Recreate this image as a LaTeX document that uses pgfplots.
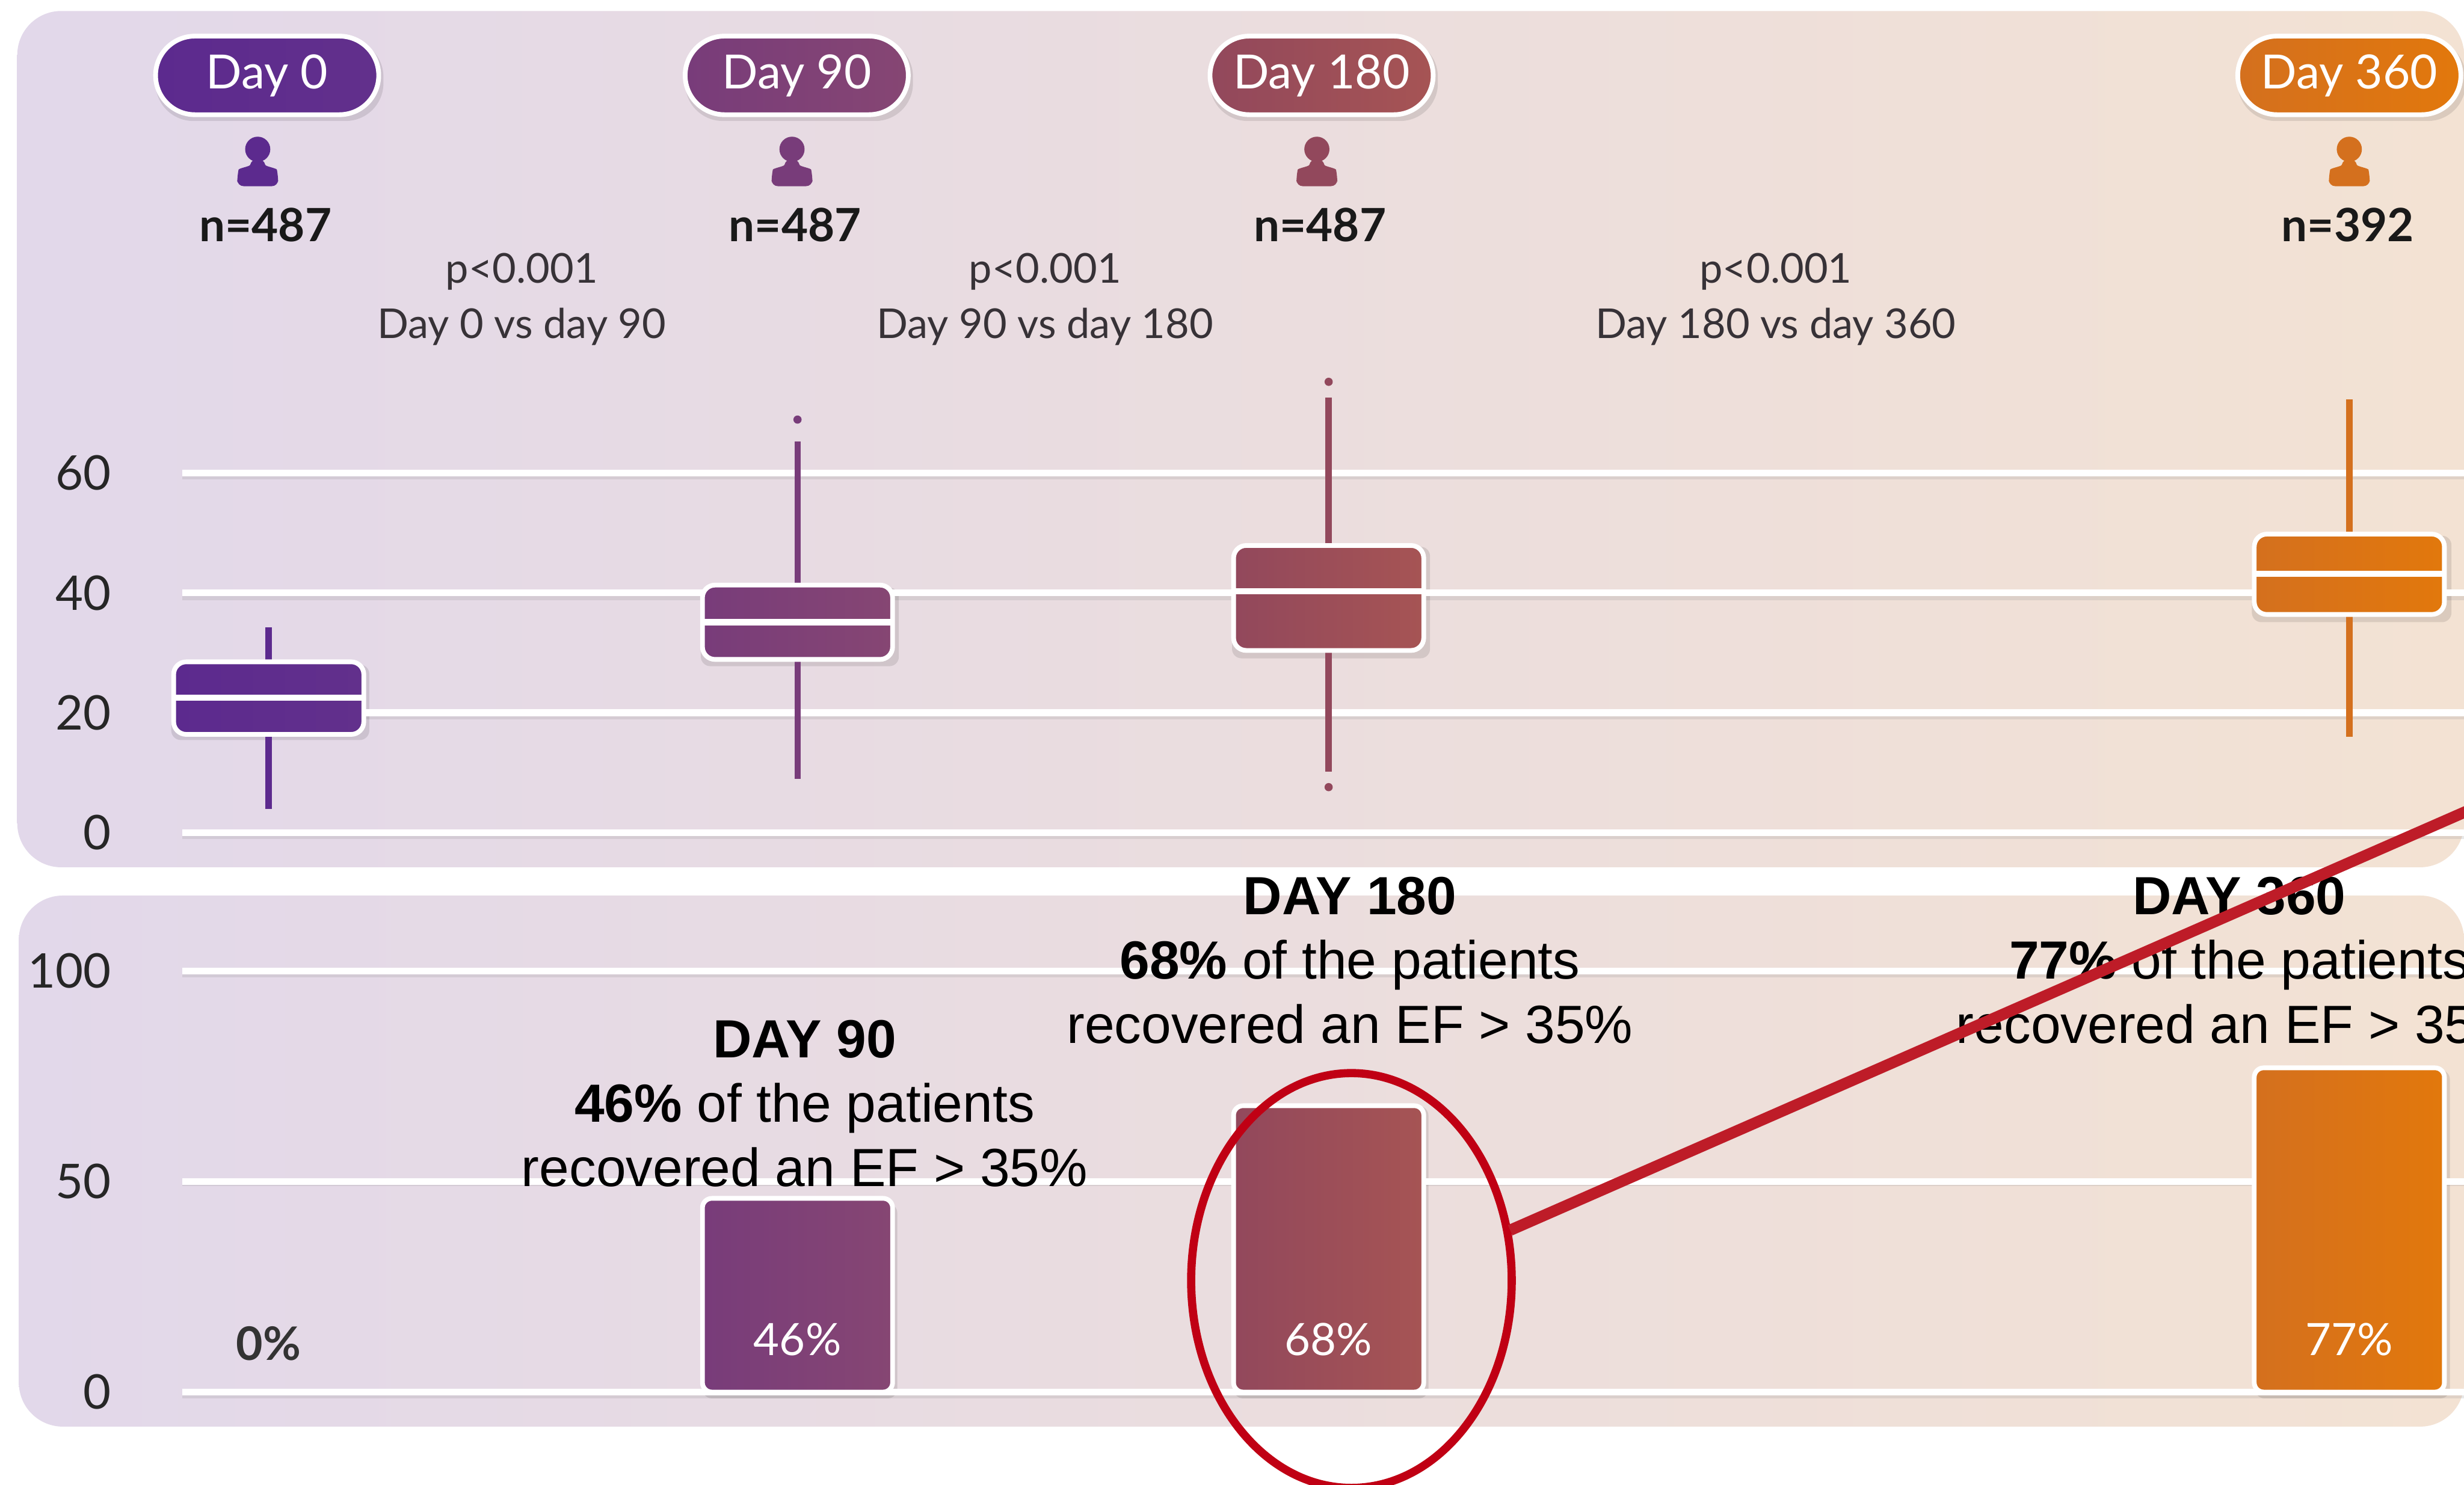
\documentclass[border=0pt]{standalone}
\usepackage{fontspec}
\setmainfont{Lato}
\newfontfamily\arial{Liberation Sans}
\usepackage{pgfplots}
\pgfplotsset{compat=1.18}
\definecolor{dA}{RGB}{92,42,142}
\definecolor{dAr}{RGB}{98,48,140}
\definecolor{dB}{RGB}{120,60,122}
\definecolor{dBr}{RGB}{134,70,115}
\definecolor{dC}{RGB}{146,72,92}
\definecolor{dCr}{RGB}{166,84,84}
\definecolor{dD}{RGB}{212,112,30}
\definecolor{dDr}{RGB}{226,120,12}
\definecolor{bgL}{RGB}{226,216,234}
\definecolor{bgM}{RGB}{238,223,224}
\definecolor{bgR}{RGB}{243,226,211}
\definecolor{redline}{RGB}{190,28,40}
\definecolor{redell}{RGB}{192,0,20}
\definecolor{ptext}{RGB}{55,50,55}
\pgfplotsset{
  panel/.style={
    scale only axis, width=726pt, xmin=116, xmax=1568, clip=false,
    axis line style={draw=none}, major tick length=0pt, xtick=\empty,
    ymajorgrids, grid style={white, line width=2.2pt},
    /pgf/number format/assume math mode=true,
    yticklabel style={font=\fontsize{15.2}{18}\selectfont\color{black!85}, inner sep=0pt, xshift=-22.5pt},
  },
  wh/.style={draw=#1, line width=2pt},
  bx/.style n args={2}{draw=white, line width=1.5pt, left color=#1, right color=#2, rounded corners=4pt},
  md/.style={draw=white, line width=2pt},
  ol/.style={only marks, mark=*, mark size=1.1pt, color=#1},
  br/.style n args={2}{
    ybar, bar shift=0pt, bar width=60.5pt, draw=white, line width=1.5pt,
    left color=#1, right color=#2, rounded corners=3pt,
  },
}
\begin{document}
\begin{tikzpicture}
\useasboundingbox (0,0) rectangle (784pt,-472.5pt);
\clip (0,0) rectangle (784pt,-472.5pt);
\fill[white] (0,0) rectangle (784pt,-472.5pt);
\begin{scope}[x=0.5pt,y=-0.5pt]
  \shade[left color=bgL, middle color=bgM, right color=bgR, rounded corners=14pt] (11,7) rectangle (1568,552);
  \shade[left color=bgL, middle color=bgM, right color=bgR, rounded corners=14pt] (12,570) rectangle (1568,908);
  % grid shadows
  \foreach \y in {303.5,380.5,456.5,532.5,620.5,753.5,888.5}
    \draw[black!40, opacity=.22, line width=1.5pt] (116,\y) -- (1568,\y);
  % element shadows
  \foreach \a/\b/\c/\d in {109/423/235/471, 446/374/572/424, 784/348/910/419, 1433/341/1560/396,
                           447/766/571/890, 785/704/909/890, 1435/681/1559/890}
    \fill[black, opacity=.10, rounded corners=3pt] (\a,\b) rectangle (\c,\d);
\end{scope}

\begin{axis}[panel, at={(58pt,-265pt)}, anchor=south west, height=152.65pt, ymin=0, ymax=80, ytick={0,20,40,60}]
  % Day 0
  \addplot[wh=dA] coordinates {(171,4) (171,16.4)};
  \addplot[wh=dA] coordinates {(171,28.5) (171,34.3)};
  \addplot[bx={dA}{dAr}] coordinates {(171,16.4) (231.5,16.4) (231.5,28.5) (110.5,28.5) (110.5,16.4)} -- cycle;
  \addplot[md] coordinates {(111.5,22.5) (230.5,22.5)};
  % Day 90
  \addplot[wh=dB] coordinates {(507.5,9) (507.5,28.9)};
  \addplot[wh=dB] coordinates {(507.5,41.3) (507.5,65.3)};
  \addplot[bx={dB}{dBr}] coordinates {(507.5,28.9) (568,28.9) (568,41.3) (447,41.3) (447,28.9)} -- cycle;
  \addplot[md] coordinates {(448,35.1) (567,35.1)};
  \addplot[ol=dB] coordinates {(507.5,68.9)};
  % Day 180
  \addplot[wh=dC] coordinates {(845.5,10.2) (845.5,30.4)};
  \addplot[wh=dC] coordinates {(845.5,47.9) (845.5,72.6)};
  \addplot[bx={dC}{dCr}] coordinates {(845.5,30.4) (906,30.4) (906,47.9) (785,47.9) (785,30.4)} -- cycle;
  \addplot[md] coordinates {(786,40.3) (905,40.3)};
  \addplot[ol=dC] coordinates {(845.5,75.2) (845.5,7.6)};
  % Day 360
  \addplot[wh=dD] coordinates {(1495,16) (1495,36.4)};
  \addplot[wh=dD] coordinates {(1495,49.8) (1495,72.3)};
  \addplot[bx={dD}{dDr}] coordinates {(1495,36.4) (1555.5,36.4) (1555.5,49.8) (1434.5,49.8) (1434.5,36.4)} -- cycle;
  \addplot[md] coordinates {(1435.5,43.2) (1554.5,43.2)};
\end{axis}

\begin{axis}[panel, at={(58pt,-443pt)}, anchor=south west, height=134pt, ymin=0, ymax=100, ytick={0,50,100}]
  \addplot[br={dB}{dBr}] coordinates {(507.5,46)};
  \addplot[br={dC}{dCr}] coordinates {(845.5,68)};
  \addplot[br={dD}{dDr}] coordinates {(1495,77)};
  \node[font=\fontsize{14.7}{17}\selectfont\bfseries, text=black!80] at (axis cs:171,11.5) {0\%};
  \node[font=\fontsize{14.2}{17}\selectfont, text=white] at (axis cs:507.5,12.5) {46\%};
  \node[font=\fontsize{14.2}{17}\selectfont, text=white] at (axis cs:845.5,12.5) {68\%};
  \node[font=\fontsize{14.2}{17}\selectfont, text=white] at (axis cs:1495,12.5) {77\%};
\end{axis}

\begin{scope}[x=0.5pt,y=-0.5pt]
  % pills
  \foreach \c/\l/\r/\t/\nn/\ic in {170/dA/dAr/Day 0/487/164, 507/dB/dBr/Day 90/487/504, 841/dC/dCr/Day 180/487/838, 1495/dD/dDr/Day 360/392/1495}{
    \fill[black, opacity=.10, rounded corners=12pt] (\c-71,25) rectangle (\c+74,77);
    \draw[white, line width=1.5pt, left color=\l, right color=\r, rounded corners=12.5pt] (\c-71,23) rectangle (\c+71,73);
    \node[text=white, font=\fontsize{15}{18}\selectfont] at (\c,48) {\t};
    \fill[\l] (\ic,95) circle (8);
    \fill[\l] (\ic-13,118.5) [rounded corners=2pt] -- (\ic-13,112) .. controls (\ic-12,107) and (\ic-5,106) .. (\ic-4,101) -- (\ic+4,101) .. controls (\ic+5,106) and (\ic+12,107) .. (\ic+13,112) -- (\ic+13,118.5) -- cycle;
    \node[text=black!90, font=\fontsize{14.6}{18}\selectfont\bfseries] at (\c-1,143) {n=\nn};
  }
  % comparisons
  \foreach \c/\t in {332/Day 0 vs day 90, 665/Day 90 vs day 180, 1130/Day 180 vs day 360}{
    \node[text=ptext, font=\fontsize{13.1}{16}\selectfont] at (\c,173) {p<0.001};
    \node[text=ptext, font=\fontsize{13.1}{16}\selectfont] at (\c,208) {\t};
  }
  % callouts
  \foreach \c/\d/\p/\y in {512/DAY 90/46/673, 859/DAY 180/68/582, 1425/DAY 360/77/582}{
    \node[anchor=base, font=\arial\fontsize{17.1}{20}\selectfont\bfseries, text=black] at (\c,\y) {\d};
    \node[anchor=base, font=\arial\fontsize{17.1}{20}\selectfont, text=black] at (\c,\y+41) {\textbf{\p\%} of the patients};
    \node[anchor=base, font=\arial\fontsize{17.1}{20}\selectfont, text=black] at (\c,\y+82) {recovered an EF > 35\%};
  }
  % highlight
  \draw[redell, line width=2.6pt] (860,815) ellipse [x radius=102, y radius=132];
  \draw[redline, line width=3.6pt] (961,783) -- (1575,514);
\end{scope}
\end{tikzpicture}
\end{document}
